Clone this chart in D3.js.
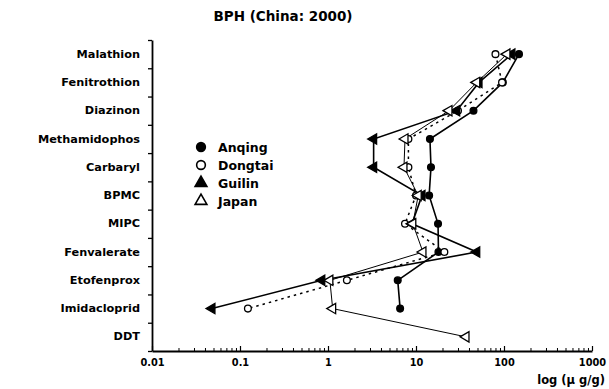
<!DOCTYPE html>
<html><head><meta charset="utf-8">
<script src="https://cdn.jsdelivr.net/npm/d3@7"></script>
<style>
body{margin:0;background:#fff;}
svg{display:block;}
text{font-family:"DejaVu Sans",sans-serif;fill:#000;}
</style></head>
<body>
<svg id="chart" width="609" height="389"></svg>
<script>
const categories = ["Malathion","Fenitrothion","Diazinon","Methamidophos","Carbaryl","BPMC","MIPC","Fenvalerate","Etofenprox","Imidacloprid","DDT"];
const anqing  = [148, 97, 45, 14.4, 14.8, 14.1, 17.8, 18, 6.2, 6.6, null];
const dongtai = [80, 95, 30, 8.2, 8.2, 10, 7.5, 21, 1.64, 0.123, null];
const guilin  = [123, 52, 29, 3.3, 3.3, 11.7, 9, 49, 0.85, 0.048, null];
const japan   = [108, 49, 23.7, 7.5, 7.3, 10.6, 9.2, 12, 1.05, 1.13, 37];
const seriesNames = ["Anqing","Dongtai","Guilin","Japan"];
const majorTicks = [0.01, 0.1, 1, 10, 100, 1000];
const majorLabels = ["0.01","0.1","1","10","100","1000"];
const title = "BPH (China: 2000)";
const xTitle = "log (\u03bc g/g)";

const svg = d3.select("#chart");
svg.append("rect").attr("width",609).attr("height",389).attr("fill","#fff");

const x = d3.scaleLog().domain([0.01,1000]).range([152,592]);
const y = d3.scaleBand().domain(categories).range([40,351]);
const yc = c => y(c) + y.bandwidth()/2;

// title
svg.append("text").attr("x",283).attr("y",21).attr("text-anchor","middle")
  .attr("font-size",13.5).attr("font-weight","bold").text(title);

// y axis labels
const yAx = svg.append("g").attr("transform","translate(152,0)")
  .call(d3.axisLeft(y).tickSize(0).tickPadding(12));
yAx.select(".domain").remove();
yAx.selectAll("text").attr("font-size",11.3).attr("font-weight","bold")
  .attr("font-family","DejaVu Sans, sans-serif");

// y axis boundary ticks
const yb = d3.scaleLinear().domain([0,categories.length]).range([40,351]);
const yAx2 = svg.append("g").attr("transform","translate(152,0)")
  .call(d3.axisLeft(yb).tickValues(d3.range(0,categories.length+1)).tickFormat("").tickSize(4).tickSizeOuter(0));
yAx2.selectAll("line").attr("stroke","#000").attr("stroke-width",1.3);
yAx2.select(".domain").attr("stroke","#000").attr("stroke-width",1.8);

// x axis
const minor = [];
for (let e=-2;e<3;e++) for (let m=2;m<10;m++) minor.push(m*Math.pow(10,e));
const xAxMinor = svg.append("g").attr("transform","translate(0,351)")
  .call(d3.axisBottom(x).tickValues(minor).tickFormat("").tickSize(-3).tickSizeOuter(0));
xAxMinor.selectAll("line").attr("stroke","#000").attr("stroke-width",1);
xAxMinor.select(".domain").attr("stroke","#000").attr("stroke-width",1.8);
const xAx = svg.append("g").attr("transform","translate(0,351)")
  .call(d3.axisBottom(x).tickValues(majorTicks).tickFormat((d,i)=>majorLabels[i]).tickSize(-5).tickSizeOuter(0).tickPadding(8));
xAx.select(".domain").remove();
xAx.selectAll("line").attr("stroke","#000").attr("stroke-width",1.2);
xAx.selectAll("text").attr("font-size",9.8).attr("font-weight","bold")
  .attr("font-family","DejaVu Sans, sans-serif");

svg.append("text").attr("x",605).attr("y",384).attr("text-anchor","end")
  .attr("font-size",11.5).attr("font-weight","bold")
  .attr("font-family","Liberation Serif, serif").text(xTitle);

// series
const series = [
  {name:"Anqing", vals:anqing, dash:null, sw:1.6, sym:d3.symbolCircle, fill:"#000", rot:0},
  {name:"Dongtai", vals:dongtai, dash:"2.5,4", sw:1.5, sym:d3.symbolCircle, fill:"#fff", rot:0},
  {name:"Guilin", vals:guilin, dash:null, sw:1.6, sym:d3.symbolTriangle, fill:"#000", rot:-90},
  {name:"Japan", vals:japan, dash:null, sw:1, sym:d3.symbolTriangle, fill:"#fff", rot:-90}
];
const line = d3.line().defined(d=>d.v!=null).x(d=>x(d.v)).y(d=>yc(d.c));
series.forEach(s=>{
  const pts = categories.map((c,i)=>({c, v:s.vals[i]}));
  svg.append("path").datum(pts).attr("d",line).attr("fill","none")
    .attr("stroke","#000").attr("stroke-width",s.sw)
    .attr("stroke-dasharray",s.dash);
});
series.forEach(s=>{
  const pts = categories.map((c,i)=>({c, v:s.vals[i]})).filter(d=>d.v!=null);
  svg.append("g").selectAll("path").data(pts).join("path")
    .attr("d",d3.symbol(s.sym, s.sym===d3.symbolCircle?36:46))
    .attr("transform",d=>`translate(${x(d.v)},${yc(d.c)}) rotate(${s.rot})`)
    .attr("fill",s.fill).attr("stroke","#000").attr("stroke-width",1.3);
});

// legend
const lg = svg.append("g").attr("transform","translate(201,147)");
series.forEach((s,i)=>{
  const g = lg.append("g").attr("transform",`translate(0,${i*18})`);
  g.append("path").attr("d",d3.symbol(s.sym, 60))
    .attr("fill",s.fill).attr("stroke","#000").attr("stroke-width",1.6);
  g.append("text").attr("x",17).attr("y",5).attr("font-size",12.5).attr("font-weight","bold").text(s.name);
});
</script>
</body></html>
